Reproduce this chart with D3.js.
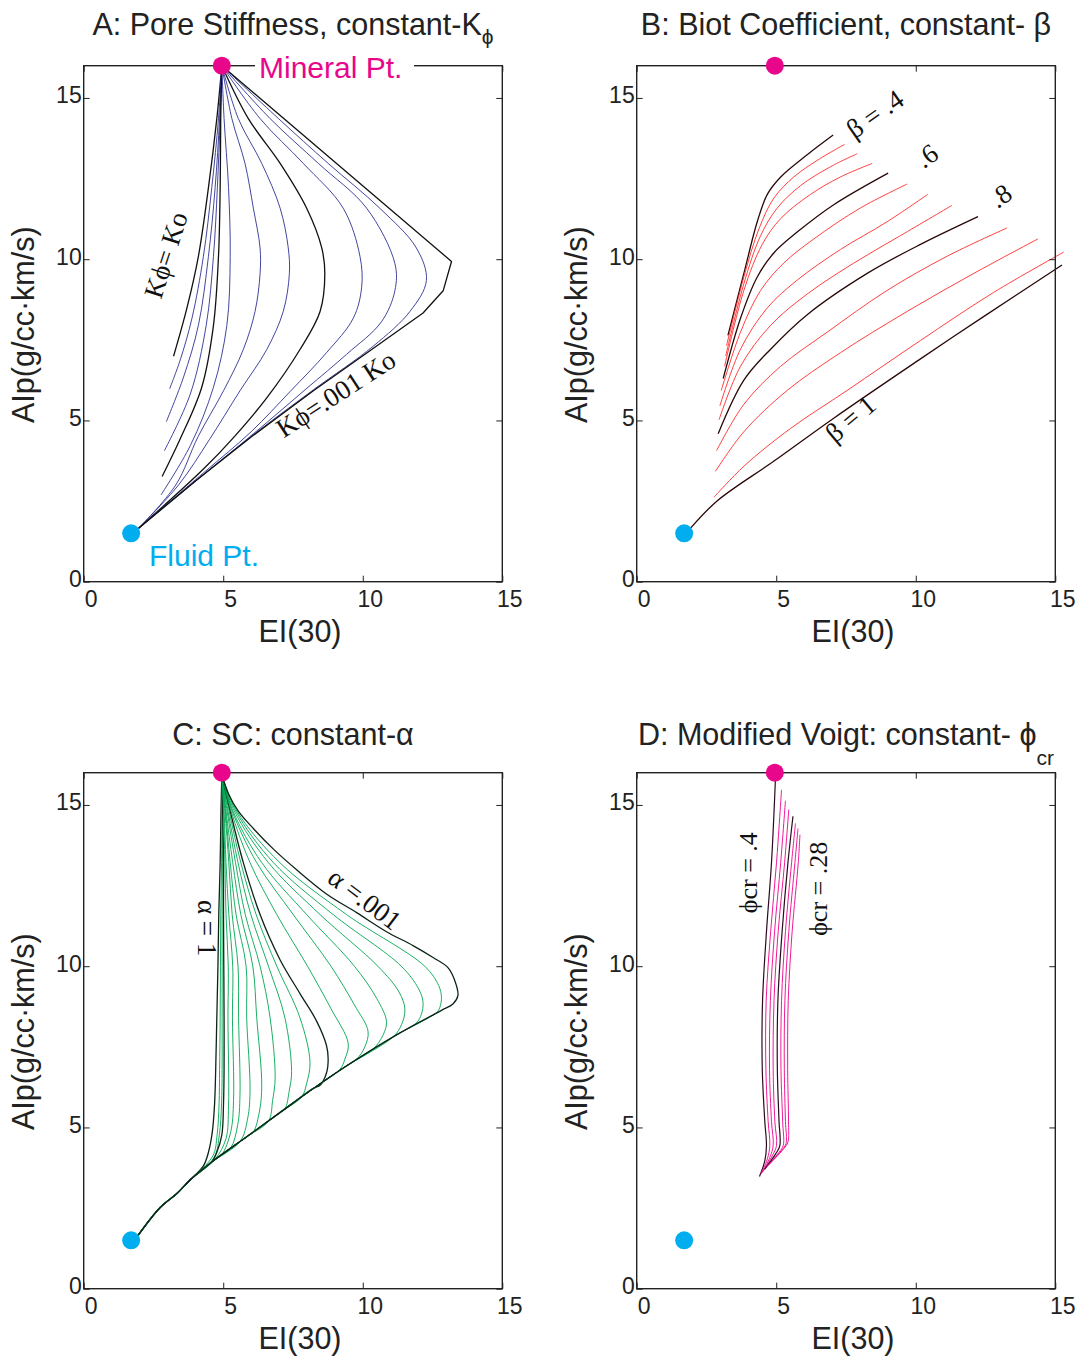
<!DOCTYPE html>
<html>
<head>
<meta charset="utf-8">
<script src="https://cdn.jsdelivr.net/npm/d3@7/dist/d3.min.js"></script>
<style>
  html, body { margin: 0; padding: 0; background: #fff; }
  svg { display: block; }
  .sans { font-family: "Liberation Sans", Arial, Helvetica, sans-serif; }
  .serif { font-family: "Liberation Serif", "Times New Roman", serif; }
</style>
</head>
<body>
<svg id="fig" width="1085" height="1357"></svg>
<script>
// ------------------------------------------------------------------
// Data: EI(30) (x) versus AIp (y) for four rock-physics model families
// ------------------------------------------------------------------
const xTickValues = [0, 5, 10, 15];
const yTickValues = [0, 5, 10, 15];
const mineralPoint = [4.95, 16];
const fluidPoint = [1.7, 1.5];

// A: constant pore stiffness, K_phi / K_o from 1 down to 0.001
const kphiRatios = [1, 0.56, 0.32, 0.18, 0.1, 0.056, 0.032, 0.018, 0.01, 0.0056, 0.0032, 0.0018, 0.001];
const kphiCurves = [
  [[4.95,16],[4.77,14.36],[4.47,12.22],[4.11,10.09],[3.70,8.49],[3.22,6.99]],
  [[4.95,16],[4.83,14.36],[4.59,12.22],[4.29,10.09],[3.88,8.17],[3.46,6.88],[3.08,5.98]],
  [[4.95,16],[4.87,14.36],[4.71,12.22],[4.47,10.09],[4.11,7.95],[3.58,6.35],[2.96,4.96]],
  [[4.95,16],[4.89,14.36],[4.79,12.22],[4.65,10.09],[4.39,7.95],[3.82,5.82],[2.89,4.06]],
  [[4.95,16],[4.91,14.36],[4.89,12.22],[4.83,10.09],[4.65,7.95],[4.23,6.03],[3.46,4.43],[2.81,3.26]],
  [[4.95,16],[5.03,14.36],[5.19,12.22],[5.25,10.09],[5.13,7.95],[4.65,6.03],[3.82,4.22],[2.77,2.69]],
  [[4.95,16],[5.31,14.36],[5.78,12.97],[6.08,11.58],[6.32,10.35],[6.32,9.55],[6.14,8.38],[5.72,7.20],[5.01,5.92],[4.10,4.50],[3.30,3.00],[1.97,1.66]],
  [[4.95,16],[5.54,14.36],[6.38,12.97],[7.04,11.58],[7.33,10.35],[7.37,9.55],[7.15,8.38],[6.56,7.20],[5.60,5.92],[4.50,4.40],[3.40,3.00],[1.97,1.66]],
  [[4.95,16],[5.90,14.36],[7.04,12.97],[7.99,11.58],[8.53,10.35],[8.64,9.55],[8.47,8.38],[7.75,7.20],[6.56,5.70],[5.40,4.50],[4.30,3.50],[1.97,1.66]],
  [[4.95,16],[6.32,14.36],[7.87,12.97],[9.30,11.58],[9.90,10.09],[9.96,9.13],[9.66,8.17],[8.70,7.10],[7.40,5.90],[6.00,4.65],[4.30,3.38],[1.97,1.66]],
  [[4.95,16],[6.68,14.36],[8.41,12.97],[10.14,11.58],[11.15,9.87],[11.15,9.02],[10.67,8.06],[9.42,7.05],[8.00,6.00],[6.10,4.60],[4.10,3.18],[1.97,1.66]],
  [[4.95,16],[6.98,14.36],[8.76,12.97],[10.61,11.58],[11.92,10.35],[12.28,9.34],[11.69,8.38],[10.37,7.30],[8.23,5.95],[6.08,4.56],[4.05,3.16],[1.97,1.66]],
  [[4.95,16],[13.18,9.93],[12.88,9.02],[12.16,8.33],[10.37,7.23],[8.23,5.92],[6.08,4.54],[4.05,3.15],[1.97,1.66]]
];

// B: constant Biot coefficient, beta from 0.4 to 1
const biotBetas = [0.4, 0.45, 0.5, 0.55, 0.6, 0.65, 0.7, 0.75, 0.8, 0.85, 0.9, 0.95, 1.0];
const biotCurves = [
  [[3.27,7.64],[3.84,9.56],[4.32,11.16],[4.68,12.01],[5.16,12.55],[6.11,13.24],[7.04,13.85]],
  [[3.22,7.32],[3.84,9.45],[4.38,10.94],[4.92,11.90],[5.63,12.55],[6.59,13.13],[7.45,13.56]],
  [[3.19,7.00],[3.84,9.24],[4.44,10.73],[5.04,11.59],[5.87,12.28],[6.95,12.87],[7.90,13.27]],
  [[3.15,6.68],[3.84,9.03],[4.50,10.46],[5.16,11.26],[6.23,12.01],[7.30,12.55],[8.44,12.97]],
  [[3.10,6.30],[3.72,8.17],[4.32,9.45],[4.92,10.20],[5.75,10.84],[7.06,11.69],[9.01,12.67]],
  [[3.03,5.93],[3.72,7.74],[4.44,9.03],[5.27,9.88],[6.35,10.63],[8.02,11.59],[9.69,12.33]],
  [[2.98,5.45],[3.72,7.21],[4.68,8.49],[5.75,9.35],[7.30,10.30],[8.97,11.16],[10.43,12.01]],
  [[2.95,5.02],[3.72,6.68],[4.80,7.95],[6.11,8.92],[7.78,9.88],[9.45,10.73],[11.30,11.67]],
  [[2.92,4.59],[3.84,6.25],[4.80,7.21],[6.11,8.28],[8.26,9.56],[10.17,10.46],[12.23,11.32]],
  [[2.86,4.06],[3.84,5.50],[5.16,6.68],[6.83,7.74],[8.97,9.03],[11.12,10.09],[13.27,10.97]],
  [[2.82,3.42],[3.84,4.65],[5.39,5.93],[7.30,7.10],[9.69,8.38],[12.08,9.56],[14.38,10.63]],
  [[2.77,2.62],[3.84,3.58],[5.51,4.75],[7.54,5.93],[10.17,7.48],[12.79,8.97],[15.30,10.22]],
  [[1.93,1.66],[2.89,2.51],[4.92,3.74],[7.06,5.07],[10.05,6.84],[12.43,8.22],[15.24,9.82]]
];

// C: self-consistent model, constant aspect ratio alpha (1 ... 0.001)
const scCurves = [
  [[4.95,15.93],[4.92,14.81],[4.89,13.21],[4.84,11.60],[4.81,10.00],[4.77,8.40],[4.73,6.80],[4.69,5.73],[4.61,4.87],[4.47,4.23],[4.29,3.81]],
  [[4.95,15.93],[4.95,14.81],[4.94,13.21],[4.91,11.60],[4.90,10.00],[4.89,8.40],[4.87,6.80],[4.85,5.73],[4.78,4.77],[4.63,4.12]],
  [[4.95,15.93],[4.97,14.81],[4.97,13.21],[4.96,11.60],[4.96,10.00],[4.96,8.40],[4.96,6.80],[4.94,5.73],[4.86,4.77],[4.67,4.07]],
  [[4.95,15.93],[4.98,14.81],[5.01,13.21],[5.01,11.60],[5.02,10.00],[5.03,8.40],[5.03,6.80],[5.01,5.73],[4.95,4.77],[4.77,4.23],[4.59,3.93]],
  [[4.95,15.93],[5.01,14.81],[5.06,13.21],[5.10,11.60],[5.18,10.00],[5.17,8.40],[5.19,5.67],[5.10,4.66],[4.71,4.02]],
  [[4.95,15.93],[5.03,14.81],[5.10,13.21],[5.20,11.60],[5.34,10.00],[5.33,8.40],[5.37,5.84],[5.27,4.87],[4.95,4.16]],
  [[4.95,15.93],[5.06,14.81],[5.20,13.21],[5.32,11.60],[5.53,10.00],[5.55,8.40],[5.60,6.00],[5.52,5.09],[5.25,4.34]],
  [[4.95,15.93],[5.08,14.81],[5.25,13.21],[5.46,11.60],[5.82,10.00],[5.84,8.40],[5.96,6.16],[5.88,5.30],[5.60,4.56]],
  [[4.95,15.93],[5.10,14.81],[5.34,13.21],[5.63,11.60],[6.06,10.00],[6.20,8.40],[6.38,6.31],[6.30,5.51],[6.08,4.86]],
  [[4.95,15.93],[5.14,14.81],[5.44,13.21],[5.79,11.60],[6.32,10.00],[6.68,8.40],[6.86,6.53],[6.77,5.84],[6.62,5.20]],
  [[4.95,15.93],[5.17,14.81],[5.53,13.21],[5.99,11.60],[6.62,10.00],[7.21,8.40],[7.45,6.74],[7.37,6.16],[7.21,5.57]],
  [[4.95,15.93],[5.21,14.81],[5.63,13.21],[6.18,11.60],[6.92,10.00],[7.75,8.40],[8.11,7.02],[7.99,6.37],[7.81,5.95]],
  [[4.95,15.93],[5.25,14.81],[5.72,13.21],[6.32,11.60],[7.03,10.21],[7.75,9.15],[8.35,8.29],[8.70,7.54],[8.76,7.12],[8.70,6.69],[8.47,6.31],[8.23,6.21]],
  [[4.95,15.93],[5.28,14.81],[5.96,13.21],[6.92,11.60],[8.02,10.00],[8.85,8.70],[9.48,7.60],[9.36,7.12],[9.18,6.80]],
  [[4.95,15.93],[5.32,14.81],[6.20,13.21],[7.51,11.60],[8.86,10.00],[9.70,8.80],[10.19,7.98],[10.07,7.49],[9.78,7.12]],
  [[4.95,15.93],[5.35,14.81],[6.38,13.21],[7.99,11.60],[9.70,10.00],[10.50,9.00],[10.85,8.29],[10.73,7.87],[10.37,7.43]],
  [[4.95,15.93],[5.40,14.81],[6.62,13.21],[8.47,11.60],[10.54,10.00],[11.30,9.20],[11.51,8.67],[11.39,8.19],[11.09,7.81]],
  [[4.95,15.93],[5.45,14.81],[6.80,13.21],[8.94,11.60],[11.38,10.00],[12.00,9.30],[12.16,8.88],[12.10,8.51],[11.92,8.24]],
  [[4.95,15.93],[5.49,14.81],[7.03,13.21],[9.42,11.60],[12.22,10.00],[12.72,9.40],[12.82,9.04],[12.76,8.72],[12.64,8.56]],
  [[4.95,15.93],[5.19,15.34],[5.54,14.81],[6.08,14.27],[6.80,13.63],[7.63,12.99],[8.70,12.24],[9.78,11.66],[10.85,11.07],[11.80,10.64],[12.52,10.27],[13.06,9.95],[13.29,9.57],[13.41,9.09],[13.23,8.83],[12.82,8.63]]
];
// shared lower branch that every SC curve runs into on its way to the fluid point
const scEnvelope = [[12.82,8.63],[11.21,7.87],[9.42,6.91],[8.23,6.21],[7.03,5.46],[5.84,4.71],[4.65,3.97],[3.82,3.38],[3.34,2.95],[2.74,2.52],[1.91,1.61]];

// D: modified Voigt, constant critical porosity (0.4 ... 0.28)
const voigtCurves = [
  [[4.98,15.98],[4.83,13.21],[4.65,11.07],[4.51,8.93],[4.50,6.80],[4.59,5.19],[4.65,4.44],[4.59,3.96],[4.40,3.48]],
  [[5.19,15.47],[5.01,13.21],[4.80,11.07],[4.64,8.93],[4.63,6.80],[4.71,5.19],[4.77,4.44],[4.68,4.02],[4.44,3.54]],
  [[5.33,15.13],[5.16,13.21],[4.94,11.07],[4.79,8.93],[4.76,6.80],[4.83,5.19],[4.89,4.44],[4.77,4.07],[4.49,3.59]],
  [[5.45,14.86],[5.30,13.21],[5.07,11.07],[4.92,8.93],[4.89,6.80],[4.95,5.19],[5.01,4.44],[4.86,4.12],[4.53,3.64]],
  [[5.60,14.65],[5.42,13.21],[5.21,11.07],[5.06,8.93],[5.04,6.80],[5.10,5.19],[5.13,4.44],[4.98,4.18],[4.58,3.70]],
  [[5.69,14.43],[5.55,13.21],[5.33,11.07],[5.19,8.93],[5.17,6.80],[5.23,5.19],[5.25,4.44],[5.10,4.23],[4.63,3.75]],
  [[5.78,14.27],[5.67,13.21],[5.45,11.07],[5.31,8.93],[5.29,6.80],[5.33,5.19],[5.35,4.50],[5.19,4.29],[4.68,3.80]],
  [[5.85,14.08],[5.79,13.21],[5.57,11.07],[5.43,8.93],[5.41,6.80],[5.44,5.19],[5.42,4.55],[5.27,4.34],[4.74,3.85]]
];

// ------------------------------------------------------------------
// Layout and styling
// ------------------------------------------------------------------
const PW = 418.6, PH = 516;
const MAGENTA = "#e8068b", CYAN = "#00aeef", AXIS = "#222";
const svg = d3.select("#fig");

function makePanel(ox, oy) {
  return {
    ox, oy,
    x: d3.scaleLinear().domain([0, 15]).range([ox, ox + PW]),
    y: d3.scaleLinear().domain([0, 16]).range([oy + PH, oy])
  };
}
const panels = [makePanel(83.7, 65.7), makePanel(636.7, 65.7), makePanel(83.7, 772.7), makePanel(636.7, 772.7)];

function styleAxis(sel, withText) {
  sel.select(".domain").remove();
  sel.selectAll(".tick line").attr("stroke", AXIS).attr("stroke-width", 1);
  sel.selectAll(".tick text")
    .attr("class", "sans")
    .attr("font-size", withText ? 23 : 0)
    .attr("fill", "#222");
}

function drawAxes(p) {
  const g = svg.append("g");
  g.append("g").attr("transform", `translate(0,${p.oy + PH})`)
    .call(d3.axisBottom(p.x).tickValues(xTickValues).tickSizeInner(-6).tickSizeOuter(0).tickPadding(9).tickFormat(d3.format("d")))
    .call(s => styleAxis(s, true))
    .call(s => s.selectAll(".tick text").attr("dx", 7));
  g.append("g").attr("transform", `translate(0,${p.oy})`)
    .call(d3.axisTop(p.x).tickValues(xTickValues).tickSizeInner(-6).tickSizeOuter(0).tickFormat(() => ""))
    .call(s => styleAxis(s, false));
  g.append("g").attr("transform", `translate(${p.ox},0)`)
    .call(d3.axisLeft(p.y).tickValues(yTickValues).tickSizeInner(-6).tickSizeOuter(0).tickPadding(2).tickFormat(d3.format("d")))
    .call(s => styleAxis(s, true))
    .call(s => s.selectAll(".tick text").attr("y", -2.5));
  g.append("g").attr("transform", `translate(${p.ox + PW},0)`)
    .call(d3.axisRight(p.y).tickValues(yTickValues).tickSizeInner(-6).tickSizeOuter(0).tickFormat(() => ""))
    .call(s => styleAxis(s, false));
  g.append("rect")
    .attr("x", p.ox).attr("y", p.oy).attr("width", PW).attr("height", PH)
    .attr("fill", "none").attr("stroke", AXIS).attr("stroke-width", 1.4);

  // axis titles
  svg.append("text").attr("class", "sans")
    .attr("x", p.ox + PW / 2 + 7).attr("y", p.oy + PH + 60)
    .attr("text-anchor", "middle").attr("font-size", 30.5).attr("fill", "#222")
    .text("EI(30)");
  svg.append("text").attr("class", "sans")
    .attr("transform", `translate(${p.ox - 50},${p.oy + PH / 2 + 1}) rotate(-90)`)
    .attr("text-anchor", "middle").attr("font-size", 30.5).attr("fill", "#222")
    .text("AIp(g/cc\u00b7km/s)");
}

function drawTitle(p, parts, baseline) {
  const t = svg.append("text").attr("class", "sans")
    .attr("x", p.ox + PW / 2).attr("y", baseline)
    .attr("text-anchor", "middle").attr("font-size", 30.5).attr("fill", "#222");
  parts.forEach(part => {
    const s = t.append("tspan").text(part.text);
    if (part.sub) s.attr("font-size", 21).attr("dy", part.sub);
  });
}

function drawCurves(p, curves, colorOf, widthOf, curve) {
  const line = d3.line().x(d => p.x(d[0])).y(d => p.y(d[1])).curve(curve);
  svg.append("g").selectAll("path").data(curves).join("path")
    .attr("d", d => line(d))
    .attr("fill", "none")
    .attr("stroke", (d, i) => colorOf(i))
    .attr("stroke-width", (d, i) => widthOf(i))
    .attr("stroke-linejoin", "round");
}

function drawPoints(p) {
  svg.append("circle").attr("cx", p.x(mineralPoint[0])).attr("cy", p.y(mineralPoint[1])).attr("r", 9).attr("fill", MAGENTA);
  svg.append("circle").attr("cx", p.x(fluidPoint[0])).attr("cy", p.y(fluidPoint[1])).attr("r", 9).attr("fill", CYAN);
}

function curveLabel(p, at, angle, text, size) {
  svg.append("text").attr("class", "serif")
    .attr("transform", `translate(${p.x(at[0])},${p.y(at[1])}) rotate(${angle})`)
    .attr("text-anchor", "middle").attr("dominant-baseline", "central")
    .attr("font-size", size || 27).attr("fill", "#111")
    .text(text);
}

const smooth = d3.curveCatmullRom.alpha(0.5);

// ---------------- Panel A ----------------
{
  const p = panels[0];
  const isDecade = r => Math.abs(Math.log10(r) - Math.round(Math.log10(r))) < 1e-6;
  const last = kphiCurves.length - 1;
  // all but the outermost curve are smooth; the outer one has sharp kinks
  drawCurves(p, kphiCurves.slice(0, last),
    i => isDecade(kphiRatios[i]) ? "#111" : "#2e3192",
    i => isDecade(kphiRatios[i]) ? 1.3 : 0.9, smooth);
  drawCurves(p, [kphiCurves[last]], () => "#111", () => 1.3, d3.curveLinear);
  drawAxes(p);
  drawTitle(p, [{ text: "A: Pore Stiffness, constant-K" }, { text: "\u03d5", sub: 9 }], 35);
  curveLabel(p, [2.95, 10.13], -72, "K\u03d5= Ko");
  curveLabel(p, [9.04, 5.82], -33, "K\u03d5=.001 Ko");
  // mineral label sits on the top frame line
  svg.append("rect").attr("x", 255).attr("y", 50).attr("width", 159).attr("height", 32).attr("fill", "#fff");
  drawPoints(p);
  svg.append("text").attr("class", "sans").attr("x", 259).attr("y", 78)
    .attr("font-size", 30).attr("fill", MAGENTA).text("Mineral Pt.");
  svg.append("text").attr("class", "sans").attr("x", 149).attr("y", 566)
    .attr("font-size", 30).attr("fill", CYAN).text("Fluid Pt.");
}

// ---------------- Panel B ----------------
{
  const p = panels[1];
  const isMajor = b => Math.abs(b * 5 - Math.round(b * 5)) < 1e-6;
  drawCurves(p, biotCurves,
    i => isMajor(biotBetas[i]) ? "#2a0808" : "#ff2a2a",
    i => isMajor(biotBetas[i]) ? 1.3 : 0.9, smooth);
  drawAxes(p);
  drawTitle(p, [{ text: "B: Biot Coefficient, constant- \u03b2" }], 35);
  curveLabel(p, [8.54, 14.50], -35, "\u03b2 = .4");
  curveLabel(p, [10.40, 13.20], -35, ".6");
  curveLabel(p, [13.04, 11.96], -35, ".8");
  curveLabel(p, [7.67, 5.05], -40, "\u03b2 = 1");
  drawPoints(p);
}

// ---------------- Panel C ----------------
{
  const p = panels[2];
  const emphasised = [0, 3, 12, scCurves.length - 1];
  const withTail = scCurves.map(c => {
    const end = c[c.length - 1];
    return c.concat(scEnvelope.filter(q => q[0] < end[0] - 0.1));
  });
  drawCurves(p, withTail,
    i => emphasised.includes(i) ? "#0c2416" : "#00a651",
    i => emphasised.includes(i) ? 1.3 : 0.9, smooth);
  drawAxes(p);
  drawTitle(p, [{ text: "C: SC: constant-\u03b1" }], 745);
  curveLabel(p, [4.41, 11.18], 90, "\u03b1 = 1");
  curveLabel(p, [10.07, 12.08], 37, "\u03b1 =.001");
  drawPoints(p);
}

// ---------------- Panel D ----------------
{
  const p = panels[3];
  const emphasised = [0, 4];
  drawCurves(p, voigtCurves,
    i => emphasised.includes(i) ? "#2a0a1e" : "#ec008c",
    i => emphasised.includes(i) ? 1.2 : 0.9, smooth);
  drawAxes(p);
  drawTitle(p, [{ text: "D: Modified Voigt: constant- \u03d5" }, { text: "cr", sub: 20 }], 745);
  curveLabel(p, [4.0, 12.9], -90, "\u03d5cr = .4", 26);
  curveLabel(p, [6.5, 12.4], -90, "\u03d5cr = .28", 26);
  drawPoints(p);
}
</script>
</body>
</html>
